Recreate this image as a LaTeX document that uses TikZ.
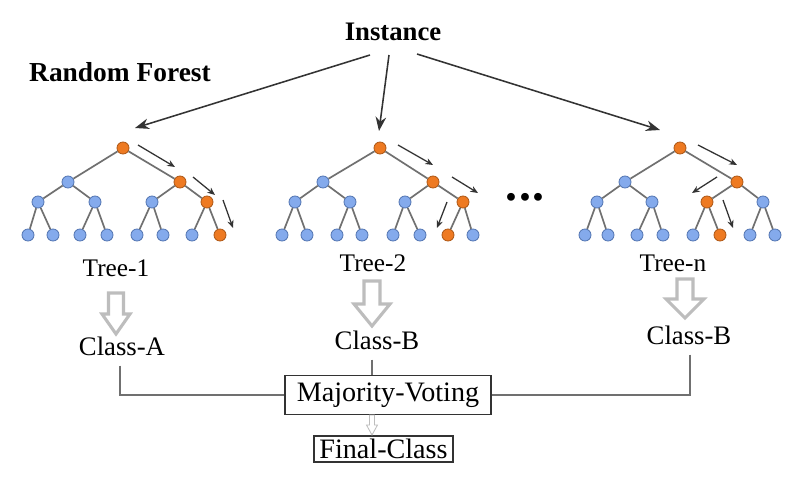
\documentclass[tikz,border=0pt]{standalone}
\usepackage{fontspec}
\setmainfont{Liberation Serif}
\usetikzlibrary{arrows.meta}
\definecolor{orn}{HTML}{EE7A22}
\definecolor{ornd}{HTML}{B05A18}
\definecolor{blu}{HTML}{84AAEC}
\definecolor{blud}{HTML}{5678B4}
\definecolor{edg}{HTML}{707070}
\definecolor{hol}{HTML}{BDBDBD}
\definecolor{dar}{HTML}{333333}
\newcommand\rfTree[2]{%
  \foreach \n/\x/\y/\s in {#2} \node[\s] (#1\n) at (\x,\y) {};
  \foreach \p/\q in {r/a,r/b,a/c,a/d,b/e,b/f,c/g,c/h,d/i,d/j,e/k,e/l,f/m,f/n}
    \draw[tedge] (#1\p) -- (#1\q);
}
\newcommand\hollowArrow[7]{%
  \draw[hollow,#7] (#1-#5,#2) -- (#1+#5,#2) -- (#1+#5,#3) -- (#1+#6,#3) -- (#1,#4)
    -- (#1-#6,#3) -- (#1-#5,#3) -- cycle;
}
\begin{document}
\begin{tikzpicture}[x=0.025cm,y=-0.025cm,
  bnode/.style={circle,draw=blud,fill=blu,minimum size=0.3cm,inner sep=0pt,line width=0.6pt},
  onode/.style={bnode,draw=ornd,fill=orn},
  tedge/.style={draw=edg,line width=1.2pt},
  walk/.style={draw=dar,line width=0.9pt,-{Stealth[length=5.5pt,width=4.5pt]}},
  mainarr/.style={draw=dar,line width=1.1pt,-{Stealth[length=10pt,width=7.5pt]}},
  hollow/.style={draw=hol,line width=2.2pt,fill=white,line join=miter},
  lab/.style={font=\fontsize{18}{20}\selectfont,inner sep=0pt},
  cls/.style={font=\fontsize{19}{21}\selectfont,inner sep=0pt},
  box/.style={draw=dar,line width=0.9pt,font=\fontsize{20}{22}\selectfont,inner sep=0pt},
  conn/.style={draw=edg,line width=1pt}]
\useasboundingbox[fill=white] (0,0) rectangle (798,488);

% titles
\node[font=\bfseries\fontsize{19}{21}\selectfont,inner sep=0pt] (inst) at (393,32) {Instance};
\node[font=\bfseries\fontsize{19.5}{21}\selectfont,inner sep=0pt] (rf) at (120,72) {Random Forest};

% trees
\rfTree{A}{r/123/148/onode, a/68/182/bnode, b/180/182/onode, c/38/202/bnode, d/95/202/bnode,
  e/152/202/bnode, f/207/202/onode, g/28/235/bnode, h/53/235/bnode, i/80/235/bnode,
  j/107/235/bnode, k/137/235/bnode, l/163/235/bnode, m/192/235/bnode, n/220/235/onode}
\rfTree{B}{r/380/148/onode, a/323/182/bnode, b/433/182/onode, c/295/202/bnode, d/350/202/bnode,
  e/405/202/bnode, f/463/202/onode, g/282/235/bnode, h/307/235/bnode, i/337/235/bnode,
  j/362/235/bnode, k/393/235/bnode, l/420/235/bnode, m/448/235/onode, n/473/235/bnode}
\rfTree{N}{r/680/148/onode, a/625/182/bnode, b/737/182/onode, c/597/202/bnode, d/652/202/bnode,
  e/707/202/onode, f/763/202/bnode, g/585/235/bnode, h/608/235/bnode, i/637/235/bnode,
  j/663/235/bnode, k/693/235/bnode, l/720/235/onode, m/750/235/bnode, n/775/235/bnode}

% arrows from instance
\coordinate (s1) at (370,55); \coordinate (t1) at (135,128);
\coordinate (s2) at (389,55); \coordinate (t2) at (379,131);
\coordinate (s3) at (417,54); \coordinate (t3) at (660,130);
\draw[mainarr] (s1) -- (t1);
\draw[mainarr] (s2) -- (t2);
\draw[mainarr] (s3) -- (t3);

% walk arrows
\foreach \a/\b/\c/\d/\nm in {138/145/175/167/a1, 193/177/215/195/a2, 223/200/233/228/a3,
  398/145/433/165/b1, 452/177/478/193/b2, 447/202/437/228/b3,
  698/145/737/165/n1, 717/177/692/193/n2, 723/200/733/228/n3}{
  \coordinate (w\nm s) at (\a,\b); \coordinate (w\nm e) at (\c,\d);
  \draw[walk] (w\nm s) -- (w\nm e);
}

% dots
\node[font=\bfseries\fontsize{34}{36}\selectfont,inner sep=0pt,anchor=base] (dots) at (525,200) {.\kern1.2pt.\kern1.2pt.};

% tree labels
\node[lab] (l1) at (116,268) {Tree-1};
\node[lab] (l2) at (373,263) {Tree-2};
\node[lab] (ln) at (673,263) {Tree-n};

% hollow arrows
\hollowArrow{116}{293}{314}{334}{7.5}{14}{}
\hollowArrow{372}{281}{304}{326}{8}{18}{}
\hollowArrow{685}{279}{299}{318}{8}{19}{}

% classes
\node[cls] (ca) at (122,346) {Class-A};
\node[cls] (cb) at (377,340) {Class-B};
\node[cls] (cn) at (689,335) {Class-B};

% voting
\node[box,minimum width=5.15cm,minimum height=0.975cm] (mv) at (388,395) {Majority-Voting};
\node[box,minimum width=3.475cm,minimum height=0.65cm] (fc) at (383.5,449) {Final-Class};

\draw[conn] ([xshift=-0.05cm,yshift=-0.25cm]ca.south) |- (mv.west);
\draw[conn] ([xshift=0.025cm,yshift=-0.25cm]cn.south) |- (mv.east);
\draw[conn] ([xshift=-0.125cm,yshift=-0.25cm]cb.south) -- ([xshift=-0.125cm]cb.south |- mv.north);

\hollowArrow{372}{415}{425}{435}{2.5}{5.5}{line width=0.6pt}
\end{tikzpicture}
\end{document}
